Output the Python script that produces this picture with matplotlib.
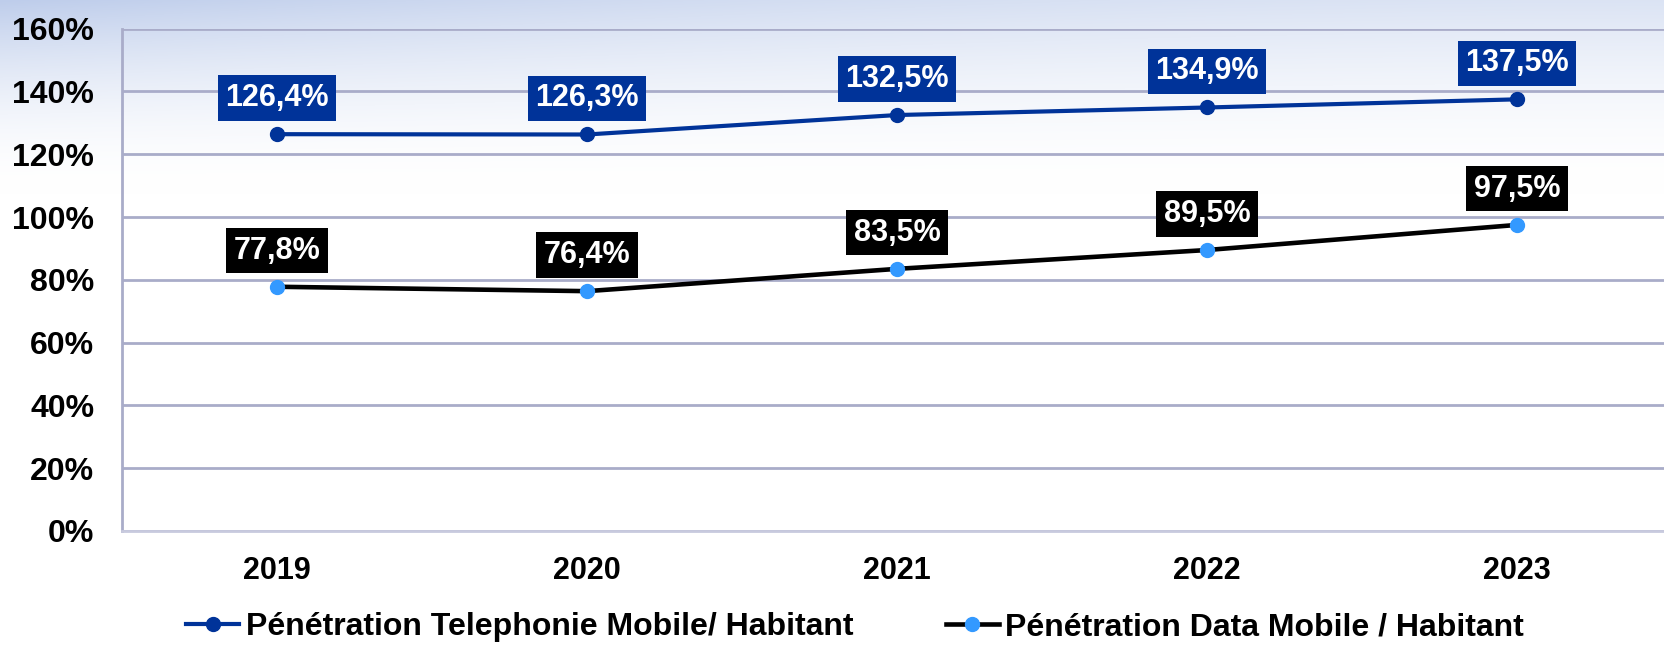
import matplotlib
matplotlib.use('Agg')
import matplotlib.pyplot as plt
import numpy as np

years = ['2019', '2020', '2021', '2022', '2023']
telephonie = [126.4, 126.3, 132.5, 134.9, 137.5]
data_mobile = [77.8, 76.4, 83.5, 89.5, 97.5]
yticks = [0, 20, 40, 60, 80, 100, 120, 140, 160]

BLUE = '#003399'
LIGHT = '#3399ff'
GRID = '#a9acc9'

plt.rcParams['font.family'] = ['Liberation Sans', 'DejaVu Sans']
plt.rcParams['font.weight'] = 'bold'

fig = plt.figure(figsize=(16.65, 6.45), dpi=100)

# pale blue wash at the top of the slide background
bg = fig.add_axes([0, 0, 1, 1], zorder=-10)
h, w = 645, 1665
yy = np.linspace(0, 1, h)[:, None]
xx = np.linspace(0, 1, w)[None, :]
fade = np.clip(1 - yy / 0.3, 0, 1) ** 1.8 * (0.55 + 0.45 * (1 - xx) ** 2)
top = np.array([190, 205, 235]) / 255
img = 1 - fade[..., None] * (1 - top)
bg.imshow(img, aspect='auto', extent=[0, 1, 0, 1])
bg.axis('off')

ax = fig.add_axes([122 / 1665, 1 - 531 / 645, 1 - 122 / 1665, (531 - 28.7) / 645])
ax.set_facecolor('none')
x = np.arange(len(years))

ax.plot(x, telephonie, color=BLUE, lw=3, marker='o', ms=10, mfc=BLUE, mec=BLUE,
        label='Pénétration Telephonie Mobile/ Habitant', zorder=3)
ax.plot(x, data_mobile, color='black', lw=3.3, marker='o', ms=10, mfc=LIGHT, mec=LIGHT,
        label='Pénétration Data Mobile / Habitant', zorder=3)

def fmt(v):
    return f'{v:.1f}%'.replace('.', ',')

for xi, v in zip(x, telephonie):
    ax.annotate(fmt(v), (xi, v), xytext=(0, 26), textcoords='offset points',
                ha='center', va='center', color='white', fontsize=22, fontweight='bold',
                bbox=dict(boxstyle='square,pad=0.25', fc=BLUE, ec='none'), zorder=4)
for xi, v in zip(x, data_mobile):
    ax.annotate(fmt(v), (xi, v), xytext=(0, 26), textcoords='offset points',
                ha='center', va='center', color='white', fontsize=22, fontweight='bold',
                bbox=dict(boxstyle='square,pad=0.25', fc='black', ec='none'), zorder=4)

ax.set_xlim(-0.5, (1665 - 277) / 310)
ax.set_ylim(0, 160)
ax.set_yticks(yticks)
ax.set_yticklabels([f'{t}%' for t in yticks])
ax.set_xticks(x)
ax.set_xticklabels(years)
ax.tick_params(axis='y', length=0, pad=20, labelsize=23)
ax.tick_params(axis='x', length=0, pad=18, labelsize=22)
ax.grid(axis='y', color=GRID, lw=2)
ax.set_axisbelow(True)
for s in ['top', 'right']:
    ax.spines[s].set_visible(False)
ax.spines['left'].set_color(GRID)
ax.spines['left'].set_linewidth(2)
ax.spines['bottom'].set_color('#c8cade')
ax.spines['bottom'].set_linewidth(2)

fig.legend(loc='center', bbox_to_anchor=(855 / 1665, 1 - 627 / 645), ncol=2, frameon=False,
           fontsize=23, handlelength=1.66, handletextpad=0.2, columnspacing=2.9)

fig.savefig('out.png', dpi=100)
